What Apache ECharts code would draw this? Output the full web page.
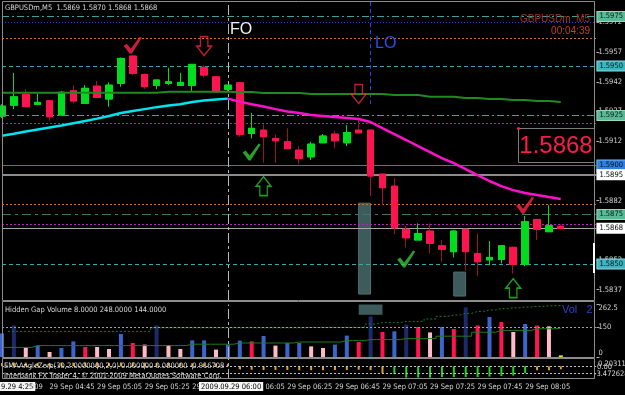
<!DOCTYPE html>
<html>
<head>
<meta charset="UTF-8">
<title>GBPUSDm,M5</title>
<script src="https://cdn.jsdelivr.net/npm/echarts@6/dist/echarts.min.js"></script>
<style>
  html, body { margin: 0; padding: 0; background: #000; }
  #chart { width: 625px; height: 395px; }
</style>
</head>
<body>
<div id="chart"></div>
<script>
// M5 bar times, the last three slots are the empty space at the right
var times = ['04:25','04:30','04:35','04:40','04:45','04:50','04:55','05:00','05:05','05:10',
  '05:15','05:20','05:25','05:30','05:35','05:40','05:45','05:50','05:55','06:00',
  '06:05','06:10','06:15','06:20','06:25','06:30','06:35','06:40','06:45','06:50',
  '06:55','07:00','07:05','07:10','07:15','07:20','07:25','07:30','07:35','07:40',
  '07:45','07:50','07:55','08:00','08:05','08:10','08:15','08:20','08:25','08:30','08:35'];

// open, close, low, high
var ohlc = [
  [1.59247,1.59297,1.59237,1.59307],[1.59302,1.59344,1.59282,1.59465],[1.59356,1.59294,1.59294,1.59383],
  [1.59306,1.59316,1.59306,1.59361],[1.59324,1.59243,1.59223,1.59328],[1.59252,1.59367,1.59252,1.59373],
  [1.59375,1.59323,1.59311,1.59403],[1.59311,1.59387,1.59311,1.59403],[1.59398,1.59341,1.59341,1.59425],
  [1.59333,1.59403,1.59294,1.59417],[1.59412,1.59538,1.59395,1.59543],[1.59550,1.59462,1.59454,1.59556],
  [1.59457,1.59395,1.59383,1.59462],[1.59402,1.59429,1.59383,1.59429],[1.59412,1.59420,1.59403,1.59491],
  [1.59402,1.59417,1.59402,1.59465],[1.59402,1.59508,1.59370,1.59508],[1.59493,1.59454,1.59442,1.59504],
  [1.59445,1.59370,1.59370,1.59445],[1.59382,1.59403,1.59370,1.59403],[1.59415,1.59154,1.59142,1.59418],
  [1.59159,1.59185,1.59134,1.59263],[1.59176,1.59142,1.59011,1.59205],[1.59134,1.59122,1.59011,1.59154],
  [1.59117,1.59082,1.59082,1.59185],[1.59075,1.59033,1.59004,1.59095],[1.59041,1.59105,1.59025,1.59117],
  [1.59112,1.59146,1.59112,1.59156],[1.59156,1.59122,1.59084,1.59173],[1.59112,1.59164,1.59095,1.59201],
  [1.59176,1.59162,1.59162,1.59232],[1.59176,1.58944,1.58843,1.59176],[1.58954,1.58885,1.58797,1.58954],
  [1.58893,1.58683,1.58651,1.58932],[1.58675,1.58632,1.58584,1.58693],[1.58621,1.58654,1.58621,1.58705],
  [1.58666,1.58604,1.58553,1.58705],[1.58592,1.58574,1.58511,1.58621],[1.58562,1.58666,1.58533,1.58671],
  [1.58675,1.58562,1.58466,1.58675],[1.58553,1.58511,1.58440,1.58654],[1.58521,1.58533,1.58494,1.58616],
  [1.58523,1.58592,1.58503,1.58592],[1.58584,1.58498,1.58452,1.58590],[1.58499,1.58713,1.58489,1.58742],
  [1.58725,1.58675,1.58621,1.58725],[1.58663,1.58693,1.58663,1.58797],[1.58690,1.58680,1.58680,1.58700]
];

// EMA, cyan while rising, magenta after FO
var emaUp = [1.59148,1.59158,1.59169,1.59179,1.59189,1.59199,1.59211,1.59222,1.59234,1.59247,
  1.59262,1.59272,1.59282,1.59292,1.59300,1.59307,1.59318,1.59325,1.59330,1.59335];
var emaDown = [null,null,null,null,null,null,null,null,null,null,null,null,null,null,null,null,null,null,null,
  1.59335,1.59320,1.59307,1.59295,1.59282,1.59270,1.59262,1.59252,1.59247,1.59242,1.59237,
  1.59232,1.59217,1.59186,1.59156,1.59126,1.59095,1.59065,1.59035,1.59009,1.58979,
  1.58949,1.58919,1.58893,1.58873,1.58858,1.58848,1.58838,1.58828];
// slow MA (dark green)
var smaSlow = [1.59365,1.59365,1.59365,1.59365,1.59365,1.59365,1.59365,1.59365,1.59365,1.59365,
  1.59365,1.59365,1.59365,1.59365,1.59370,1.59370,1.59370,1.59370,1.59370,1.59370,
  1.59369,1.59369,1.59364,1.59364,1.59364,1.59364,1.59358,1.59358,1.59358,1.59358,
  1.59358,1.59358,1.59358,1.59353,1.59353,1.59353,1.59345,1.59345,1.59345,1.59338,
  1.59338,1.59333,1.59333,1.59328,1.59328,1.59323,1.59323,1.59318];

// horizontal levels and the price tags on the scale
var levelPrices = [1.5975, 1.5972, 1.5964, 1.5950, 1.5925, 1.5921, 1.5900, 1.5895, 1.5880, 1.5875, 1.5870, 1.5868, 1.5850];
var tagPrices = [1.5975, 1.5950, 1.5925, 1.5900, 1.5895, 1.5875, 1.5868, 1.5850];
var priceTicks = [1.5837, 1.5852, 1.5867, 1.5882, 1.5897, 1.5912, 1.5927, 1.5942, 1.5957, 1.5972];

// signal arrows / ticks [bar index, price]
var redChecks = [[11, 1.59605], [44, 1.58797]];
var greenChecks = [[21, 1.59065], [34, 1.58525]];
var redDownArrows = [[17, 1.59600], [30, 1.59358]];
var greenUpArrows = [[22, 1.58893], [43, 1.58378]];

// rectangles [bar from, bar to, price top, price bottom]
var boxes = [[30, 31, 1.58807, 1.58348], [38, 39, 1.58459, 1.58338]];

// Hidden Gap Volume
var volume = [118,158,48,57,25,45,78,50,50,40,115,70,62,158,60,40,83,83,37,62,
  82,78,105,57,70,70,53,45,62,107,75,203,125,128,162,150,123,150,140,248,
  158,200,175,125,165,157,153,8];
var volKind = ['b','n','p','b','p','b','b','r','p','p','b','r','p','n','p','p','b','b','p','b',
  'b','r','b','p','b','b','p','p','b','b','r','n','r','b','n','r','p','b','r','n',
  'r','b','r','p','b','r','p','y'];
var volMa = [48,48,48,57,57,57,57,57,57,57,57,57,57,57,57,57,64,64,64,64,
  70,70,70,70,70,75,75,75,75,82,82,87,87,87,92,92,92,104,104,104,
  124,124,133,133,133,141,141,144];
var volUpper = [null,128,128,128,128,128,128,128,128,128,128,128,128,146,146,146,146,146,146,146,
  146,146,146,146,146,146,148,148,148,148,148,165,172,172,178,178,190,203,210,218,
  228,235,242,246,250,253,256,258];
var volTicks = [0, 150, 262.5];

// EMAAngleZero histogram
var angle = [0.7,0.75,0.75,0.7,0.7,0.75,0.75,0.8,0.75,0.7,0.8,0.8,0.75,0.7,0.7,0.7,0.65,0.6,0.6,0.5,
  -0.6,-0.7,-0.75,-0.75,-0.75,-0.8,-0.8,-0.8,-0.75,-0.75,-0.7,-0.8,-1.4,-1.6,-2.3,-2.3,-2.3,-2.2,-2.2,-2.2,
  -2.2,-2.1,-2.0,-1.9,-1.4,-0.8,-0.8,-0.6];
var angleLevels = [0, -1.43];

var FO = 19, LO = 31;
var SMALL = "'Liberation Sans Narrow', 'DejaVu Sans Condensed', 'Liberation Sans', Arial, sans-serif";
var SANS = "'Liberation Sans', Arial, sans-serif";

var levelStyle = {
  '1.5975': { color: '#3aa39b', type: [7, 3, 2, 3] },
  '1.5972': { color: '#3a3ad8', type: [1, 2] },
  '1.5964': { color: '#c8742c', type: [2, 2] },
  '1.595':  { color: '#3aa6b4', type: [4, 3] },
  '1.5925': { color: '#3aa39b', type: [7, 3, 2, 3] },
  '1.5921': { color: '#1e8c1e', type: [2, 2] },
  '1.59':   { color: '#2a78d8', type: 'solid' },
  '1.5895': { color: '#8c8c8c', type: 'solid', width: 2 },
  '1.588':  { color: '#c8742c', type: [2, 2] },
  '1.5875': { color: '#3c7868', type: [9, 4, 3, 4] },
  '1.587':  { color: '#b424b4', type: [2, 2] },
  '1.5868': { color: '#a8a8a8', type: 'solid' },
  '1.585':  { color: '#3aa6b4', type: [4, 3] }
};
var tagStyle = {
  '1.5975': { bg: '#5ab896', border: '#94dcbc', fg: '#061a10' },
  '1.595':  { bg: '#3fb4c0', border: '#90d8e0', fg: '#04161a' },
  '1.5925': { bg: '#5ab896', border: '#94dcbc', fg: '#061a10' },
  '1.59':   { bg: '#2d7fe6', border: '#80b4f4', fg: '#000c24' },
  '1.5895': { bg: '#ffffff', border: '#ffffff', fg: '#000000' },
  '1.5875': { bg: '#5ab896', border: '#94dcbc', fg: '#061a10' },
  '1.5868': { bg: '#ffffff', border: '#ffffff', fg: '#000000' },
  '1.585':  { bg: '#3fb4c0', border: '#90d8e0', fg: '#04161a' }
};
var volColor = { b: '#3a66cc', n: '#1c2a6c', p: '#ffbcc8', r: '#ff1450', y: '#f0f000' };

var levelLines = levelPrices.map(function (p) {
  var s = levelStyle[String(p)];
  var t = tagStyle[String(p)];
  var item = {
    yAxis: p,
    lineStyle: { color: s.color, type: s.type, width: s.width || 1 },
    label: { show: false }
  };
  if (tagPrices.indexOf(p) >= 0) {
    item.label = {
      show: true, position: 'end', distance: 1,
      formatter: p.toFixed(4),
      color: t.fg, backgroundColor: t.bg, borderColor: t.border, borderWidth: 1,
      padding: [1, 2, 0, 2], fontSize: 7.5, fontFamily: SMALL
    };
  }
  return item;
});

var foLine = {
  xAxis: FO,
  lineStyle: { color: '#b8b8b8', type: [10, 3, 3, 3], width: 1 },
  label: { show: false }
};

var bodies = ohlc.map(function (d) {
  return [d[0], d[1], Math.min(d[0], d[1]), Math.max(d[0], d[1])];
});

var checkPath = 'path://M0,9 L3,7 L7,12 L16,0 L18,1 L8,17 L6,17 Z';
var downArrow = 'path://M4,0 L12,0 L12,10 L16,10 L8,20 L0,10 L4,10 Z';
var upArrow = 'path://M8,0 L16,10 L12,10 L12,20 L4,20 L4,10 L0,10 Z';

var showTime = function (i) { return i > 0 && i <= 44 && i % 4 === 0; };

var chart = echarts.init(document.getElementById('chart'), null, { renderer: 'canvas' });

var option = {
  backgroundColor: '#000000',
  animation: false,
  grid: [
    { left: 2, top: 2, width: 594.5, height: 298 },
    { left: 2, top: 304.5, width: 594.5, height: 52.5 },
    { left: 2, top: 359, width: 594.5, height: 20 }
  ],
  xAxis: [0, 1, 2].map(function (g) {
    return {
      type: 'category', gridIndex: g, data: times, boundaryGap: false,
      axisLine: { show: false },
      splitLine: { show: false },
      axisTick: g === 2 ? { show: true, interval: showTime, length: 3, lineStyle: { color: '#a0a0a0' } } : { show: false },
      axisLabel: g === 2 ? {
        show: true, interval: showTime, align: 'left', margin: 4,
        color: '#d4d4d4', fontSize: 7.5, fontFamily: SMALL,
        formatter: function (v) { return '29 Sep ' + v; }
      } : { show: false }
    };
  }),
  yAxis: [
    {
      type: 'value', gridIndex: 0, position: 'right', min: 1.58318, max: 1.59823, scale: true,
      splitLine: { show: false }, axisLine: { show: false },
      axisTick: { show: true, customValues: priceTicks, length: 3, lineStyle: { color: '#b0b0b0' } },
      axisLabel: {
        customValues: priceTicks, margin: 2, color: '#d4d4d4', fontSize: 7.5, fontFamily: SMALL,
        formatter: function (v) { return v.toFixed(4); }
      }
    },
    {
      type: 'value', gridIndex: 1, position: 'right', min: 0, max: 262.5,
      splitLine: { show: false }, axisLine: { show: false },
      axisTick: { show: true, customValues: volTicks, length: 3, lineStyle: { color: '#b0b0b0' } },
      axisLabel: {
        customValues: volTicks, margin: 2, color: '#d4d4d4', fontSize: 7.5, fontFamily: SMALL,
        verticalAlignMinLabel: 'bottom', verticalAlignMaxLabel: 'top',
        formatter: function (v) { return String(v); }
      }
    },
    {
      type: 'value', gridIndex: 2, position: 'right', min: -2.6, max: 1.5,
      splitLine: { show: false }, axisLine: { show: false }, axisTick: { show: false },
      axisLabel: { show: false }
    }
  ],
  series: [
    {
      type: 'candlestick', name: 'wicks', xAxisIndex: 0, yAxisIndex: 0, data: ohlc, barWidth: 7, z: 3,
      itemStyle: { color: '#00dc1e', color0: '#ff1450', borderColor: '#00dc1e', borderColor0: '#a0102c', borderWidth: 1 },
      markLine: { silent: true, symbol: 'none', precision: 6, z: 1, data: levelLines.concat([foLine, [
        { coord: [LO, 1.59823], lineStyle: { color: '#2a44d8', type: [4, 3], width: 1 }, label: { show: false } },
        { coord: [LO, 1.59292] }
      ]]) },
      markArea: {
        silent: true,
        itemStyle: { color: '#3d5b5b', borderColor: '#4f7070', borderWidth: 1 },
        data: boxes.map(function (b) { return [{ coord: [b[0], b[2]] }, { coord: [b[1], b[3]] }]; })
      }
    },
    {
      type: 'candlestick', name: 'bodies', xAxisIndex: 0, yAxisIndex: 0, data: bodies, barWidth: 7, z: 4,
      itemStyle: { color: '#00dc1e', color0: '#ff1450', borderColor: '#00dc1e', borderColor0: '#ff1450', borderWidth: 1 }
    },
    { type: 'line', xAxisIndex: 0, yAxisIndex: 0, data: smaSlow, symbol: 'none', z: 5,
      lineStyle: { color: '#1f8a1f', width: 2 } },
    { type: 'line', xAxisIndex: 0, yAxisIndex: 0, data: emaUp, symbol: 'none', z: 6,
      lineStyle: { color: '#00e4f0', width: 2.5 } },
    { type: 'line', xAxisIndex: 0, yAxisIndex: 0, data: emaDown, symbol: 'none', z: 6,
      lineStyle: { color: '#ff10cc', width: 2.5 } },
    { type: 'scatter', xAxisIndex: 0, yAxisIndex: 0, data: redChecks, symbol: checkPath, symbolSize: [18, 17], z: 7,
      itemStyle: { color: '#ff2450' } },
    { type: 'scatter', xAxisIndex: 0, yAxisIndex: 0, data: greenChecks, symbol: checkPath, symbolSize: [18, 17], z: 7,
      itemStyle: { color: '#34c834' } },
    { type: 'scatter', xAxisIndex: 0, yAxisIndex: 0, data: redDownArrows, symbol: downArrow, symbolSize: [15, 19], z: 7,
      itemStyle: { color: 'rgba(0,0,0,0)', borderColor: '#e8283c', borderWidth: 1.4 } },
    { type: 'scatter', xAxisIndex: 0, yAxisIndex: 0, data: greenUpArrows, symbol: upArrow, symbolSize: [15, 19], z: 7,
      itemStyle: { color: 'rgba(0,0,0,0)', borderColor: '#22c822', borderWidth: 1.4 } },

    {
      type: 'bar', xAxisIndex: 1, yAxisIndex: 1, barWidth: 4, z: 3,
      data: volume.map(function (v, i) { return { value: v, itemStyle: { color: volColor[volKind[i]] } }; }),
      markLine: { silent: true, symbol: 'none', data: [
        { yAxis: 150, lineStyle: { color: '#a0a0a0', type: [2, 2], width: 1 }, label: { show: false } },
        foLine
      ] },
      markArea: { silent: true, itemStyle: { color: '#3d5b5b' },
        data: [[{ coord: [30, 262.5] }, { coord: [31, 211] }]] }
    },
    { type: 'line', xAxisIndex: 1, yAxisIndex: 1, data: volMa, symbol: 'none', step: 'middle', z: 4,
      lineStyle: { color: '#1f7a1f', width: 1 } },
    { type: 'line', xAxisIndex: 1, yAxisIndex: 1, data: volUpper, symbol: 'none', step: 'middle', z: 4,
      lineStyle: { color: '#1f7a1f', width: 1, type: [2, 2] } },

    {
      type: 'bar', xAxisIndex: 2, yAxisIndex: 2, barWidth: 2, z: 3,
      data: angle.map(function (v, i) {
        return { value: v, itemStyle: { color: (i >= 33 && i <= 44) ? '#22d422' : '#e0a020' } };
      }),
      markLine: { silent: true, symbol: 'none', precision: 4, data: angleLevels.map(function (v) {
        return { yAxis: v, lineStyle: { color: '#c0c0c0', type: [2, 2], width: 1 }, label: { show: false } };
      }).concat([foLine]) }
    }
  ],
  graphic: [
    // window frames
    { type: 'rect', z: 50, shape: { x: 2.5, y: 1.5, width: 592, height: 299 }, style: { fill: 'none', stroke: '#8c8c8c', lineWidth: 1 } },
    { type: 'rect', z: 50, shape: { x: 2.5, y: 301.5, width: 592, height: 56 }, style: { fill: 'none', stroke: '#8c8c8c', lineWidth: 1 } },
    { type: 'rect', z: 50, shape: { x: 2.5, y: 358.5, width: 592, height: 20 }, style: { fill: 'none', stroke: '#8c8c8c', lineWidth: 1 } },
    { type: 'rect', z: 51, shape: { x: 593, y: 243, width: 2, height: 30 }, style: { fill: '#ffffff' } },

    { type: 'text', z: 60, x: 5, y: 4, style: { text: 'GBPUSDm,M5  1.5869 1.5870 1.5868 1.5868', fill: '#d8d8d8', fontSize: 7.5, fontFamily: SMALL } },
    { type: 'text', z: 60, x: 230, y: 22, style: { text: 'FO', fill: '#f0f0f0', fontSize: 16, fontFamily: SANS } },
    { type: 'text', z: 60, x: 375, y: 36, style: { text: 'LO', fill: '#2a4cf0', fontSize: 16, fontFamily: SANS } },
    { type: 'text', z: 60, x: 590, y: 14, style: { text: 'GBPUSDm  M5', fill: '#a83418', fontSize: 10, fontFamily: SANS, align: 'right' } },
    { type: 'text', z: 60, x: 590, y: 26, style: { text: '00:04:39', fill: '#c83c1c', fontSize: 10, fontFamily: SANS, align: 'right' } },

    { type: 'rect', z: 60, shape: { x: 518.5, y: 128.5, width: 76, height: 34 }, style: { fill: 'none', stroke: '#7a7a7a', lineWidth: 1 } },
    { type: 'circle', z: 61, shape: { cx: 518.5, cy: 128.5, r: 1.5 }, style: { fill: '#ff2040' } },
    { type: 'text', z: 61, x: 556, y: 146, style: { text: ohlc[ohlc.length - 1][1].toFixed(4), fill: '#ff1a48', fontSize: 24, fontFamily: SANS, align: 'center', verticalAlign: 'middle' } },

    { type: 'text', z: 60, x: 5, y: 306, style: { text: 'Hidden Gap Volume 8.0000 248.0000 144.0000', fill: '#d8d8d8', fontSize: 7.5, fontFamily: SMALL } },
    { type: 'text', z: 60, x: 562, y: 304, style: { text: 'Vol   2', fill: '#2c44c8', fontSize: 11, fontFamily: SANS } },

    { type: 'text', z: 60, x: 4, y: 362, style: { text: 'EMAAngleZero(30,2.0000000,2,0) 0.000000 0.000000 -0.916708', fill: '#d8d8d8', fontSize: 7.5, fontFamily: SMALL } },
    { type: 'text', z: 60, x: 4, y: 372, style: { text: 'Interbank FX Trader 4, \u00a9 2001-2009 MetaQuotes Software Corp.', fill: '#d8d8d8', fontSize: 7.5, fontFamily: SMALL } },
    { type: 'text', z: 60, x: 598, y: 360, style: { text: '0.20311', fill: '#d8d8d8', fontSize: 7.5, fontFamily: SMALL } },
    { type: 'text', z: 60, x: 597, y: 363, style: { text: '0.00', fill: '#d8d8d8', fontSize: 7.5, fontFamily: SMALL } },
    { type: 'text', z: 60, x: 594, y: 370, style: { text: '-3.472628', fill: '#d8d8d8', fontSize: 7.5, fontFamily: SMALL } },

    { type: 'text', z: 70, x: 0, y: 382, style: { text: '9.29 4:25', fill: '#000000', backgroundColor: '#f4f4f4', padding: [1, 2, 0, 1], fontSize: 7.5, fontFamily: SMALL } },
    { type: 'text', z: 70, x: 30, y: 383, style: { text: '009', fill: '#d4d4d4', fontSize: 7.5, fontFamily: SMALL } },
    { type: 'text', z: 70, x: 199, y: 382, style: { text: '2009.09.29 06:00', fill: '#000000', backgroundColor: '#f4f4f4', padding: [1, 2, 0, 2], fontSize: 7.5, fontFamily: SMALL } }
  ]
};

chart.setOption(option);
</script>
</body>
</html>
